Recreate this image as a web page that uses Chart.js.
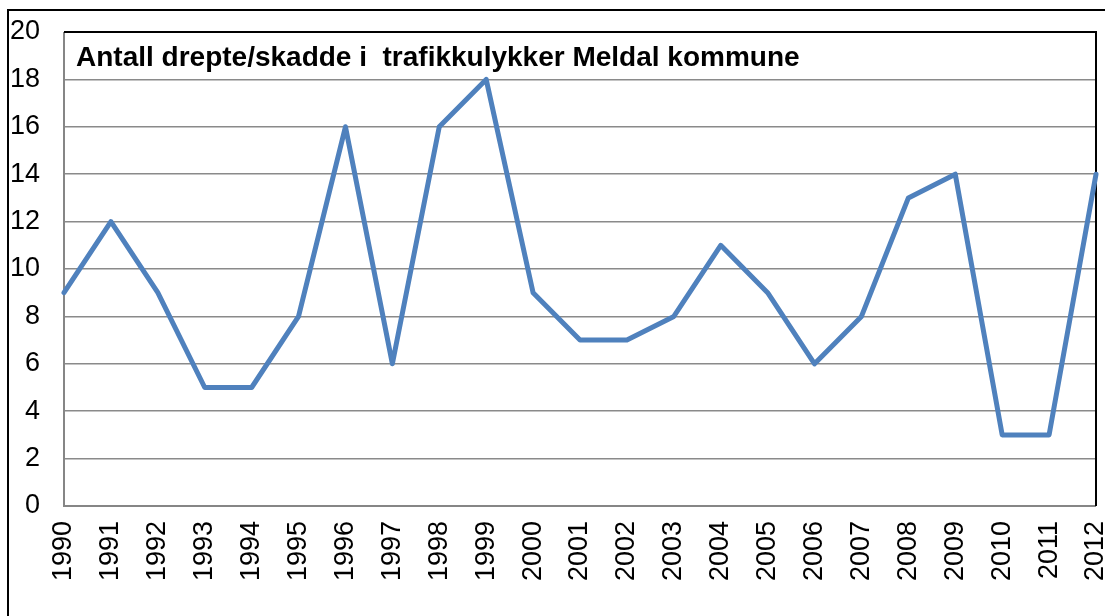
<!DOCTYPE html>
<html>
<head>
<meta charset="utf-8">
<script src="https://cdn.jsdelivr.net/npm/chart.js@4"></script>
<style>
  html, body { margin: 0; padding: 0; background: #fff; overflow: hidden; width: 1105px; height: 616px; }
  #frame { position: absolute; left: 7px; top: 9px; width: 1200px; height: 700px; border: 2px solid #000; }
  #wrap { position: absolute; left: 0; top: 0; width: 1105px; height: 616px; }
</style>
</head>
<body>
<div id="frame"></div>
<div id="wrap"><canvas id="myChart"></canvas></div>
<script>
const years = ['1990', '1991', '1992', '1993', '1994', '1995', '1996', '1997', '1998', '1999', '2000', '2001',
    '2002', '2003', '2004', '2005', '2006', '2007', '2008', '2009', '2010', '2011', '2012']
const casualties = [9, 12, 9, 5, 5, 8, 16, 6, 16, 18, 9, 7, 7, 8, 11, 9, 6, 8, 13, 14, 3, 3, 14]
const chartTitle = 'Antall drepte/skadde i  trafikkulykker Meldal kommune'

const fontFamily = '"Liberation Sans", Arial, sans-serif'

const frameAndTitle = {
    id: 'frameAndTitle',
    beforeDatasetsDraw (chart) {
        const { ctx, chartArea: a } = chart
        ctx.save()
        ctx.lineWidth = 2
        ctx.strokeStyle = '#868686'
        ctx.beginPath()
        ctx.moveTo(a.left, a.top)
        ctx.lineTo(a.left, a.bottom)
        ctx.lineTo(a.right, a.bottom)
        ctx.stroke()
        ctx.strokeStyle = '#000'
        ctx.beginPath()
        ctx.moveTo(a.left, a.top)
        ctx.lineTo(a.right, a.top)
        ctx.lineTo(a.right, a.bottom)
        ctx.stroke()
        ctx.fillStyle = '#000'
        ctx.font = 'bold 28px ' + fontFamily
        ctx.textBaseline = 'middle'
        ctx.textAlign = 'left'
        ctx.fillText(chartTitle, a.left + 12, a.top + 26)
        ctx.restore()
    }
}

// keep label overhang from pushing the plot area around
function noPad (scale) {
    scale.paddingTop = 0
    scale.paddingBottom = 0
    scale.paddingLeft = 0
    scale.paddingRight = 0
}

new Chart(document.getElementById('myChart'), {
    type: 'line',
    data: {
        labels: years,
        datasets: [{
            label: 'Antall',
            data: casualties,
            borderColor: '#4F81BD',
            borderWidth: 5,
            borderJoinStyle: 'round',
            borderCapStyle: 'round',
            pointRadius: 0,
            tension: 0,
            clip: false
        }]
    },
    options: {
        responsive: true,
        maintainAspectRatio: false,
        animation: false,
        layout: { padding: { left: 0, top: 32, right: 9, bottom: 0 } },
        plugins: { legend: { display: false }, tooltip: { enabled: false } },
        scales: {
            x: {
                offset: false,
                grid: { display: false, drawTicks: false },
                border: { display: false },
                ticks: {
                    minRotation: 90, maxRotation: 90, autoSkip: false, padding: 15,
                    color: '#000',
                    font: { family: fontFamily, size: 27 }
                },
                afterFit (scale) { scale.height = 110; noPad(scale) }
            },
            y: {
                min: 0, max: 20,
                grid: { color: '#8a8a8a', lineWidth: 1.5, drawTicks: false },
                border: { display: false },
                ticks: {
                    stepSize: 2, padding: 24, color: '#000',
                    font: { family: fontFamily, size: 27 }
                },
                afterFit (scale) { scale.width = 64; noPad(scale) }
            }
        }
    },
    plugins: [frameAndTitle]
})
</script>
</body>
</html>
